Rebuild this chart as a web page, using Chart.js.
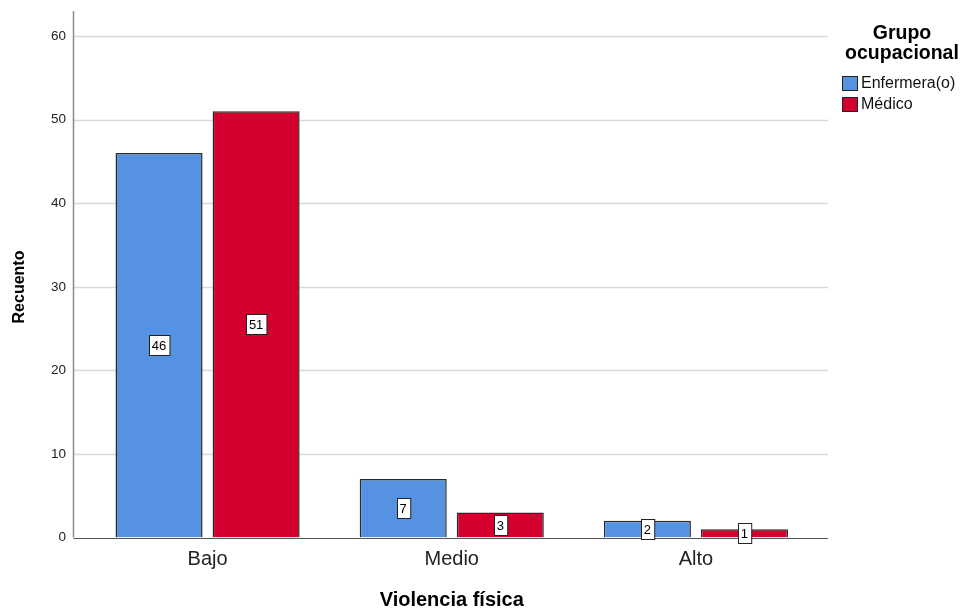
<!DOCTYPE html>
<html>
<head>
<meta charset="utf-8">
<title>Violencia física</title>
<script src="https://cdn.jsdelivr.net/npm/chart.js@4.4.1/dist/chart.umd.min.js"></script>
<style>
  html, body { margin: 0; padding: 0; background: #fff; }
  #wrap { width: 971px; height: 616px; position: relative; }
</style>
</head>
<body>
<div id="wrap"><canvas id="barChart"></canvas></div>
<script>
const categories = ["Bajo", "Medio", "Alto"];
const groupNames = ["Enfermera(o)", "Médico"];
const nurseCounts = [46, 7, 2];
const doctorCounts = [51, 3, 1];
const yTicks = [0, 10, 20, 30, 40, 50, 60];

const FONT = "Arial, 'Liberation Sans', sans-serif";
const BLUE = "#5592e2";
const RED = "#d3002f";

// grid lines and axis lines run a bit wider than the category band
const AXIS_LEFT = 73.5;
const AXIS_RIGHT = 828;

const chartCanvas = document.getElementById("barChart");

const framePlugin = {
  id: "frame",
  beforeDatasetsDraw(chart) {
    const ctx = chart.ctx;
    const y = chart.scales.y;
    const area = chart.chartArea;
    ctx.save();
    ctx.strokeStyle = "#d9d9d9";
    ctx.lineWidth = 1.5;
    yTicks.forEach((v) => {
      if (v === 0) return;
      const py = Math.round(y.getPixelForValue(v)) + 0.5;
      ctx.beginPath();
      ctx.moveTo(AXIS_LEFT, py);
      ctx.lineTo(AXIS_RIGHT, py);
      ctx.stroke();
    });
    // y axis line
    ctx.strokeStyle = "#8a8a8a";
    ctx.lineWidth = 1.5;
    ctx.beginPath();
    ctx.moveTo(AXIS_LEFT, area.top);
    ctx.lineTo(AXIS_LEFT, y.getPixelForValue(0));
    ctx.stroke();
    ctx.restore();
  },
  afterDatasetsDraw(chart) {
    const ctx = chart.ctx;
    const y = chart.scales.y;
    const base = Math.round(y.getPixelForValue(0)) + 0.5;
    ctx.save();
    // x axis line
    ctx.strokeStyle = "#555";
    ctx.lineWidth = 1;
    ctx.beginPath();
    ctx.moveTo(AXIS_LEFT, base);
    ctx.lineTo(AXIS_RIGHT, base);
    ctx.stroke();

    // value boxes in the middle of each bar
    ctx.font = "13px " + FONT;
    ctx.textAlign = "center";
    ctx.textBaseline = "middle";
    chart.data.datasets.forEach((ds, i) => {
      const meta = chart.getDatasetMeta(i);
      meta.data.forEach((bar, j) => {
        const value = ds.data[j];
        const label = String(value);
        const cy = y.getPixelForValue(value / 2);
        const w = ctx.measureText(label).width + 6;
        const h = 20;
        const bx = Math.round(bar.x - w / 2) + 0.5;
        const by = Math.round(cy - h / 2) + 0.5;
        ctx.fillStyle = "#fff";
        ctx.fillRect(bx, by, w, h);
        ctx.strokeStyle = "#222";
        ctx.lineWidth = 1;
        ctx.strokeRect(bx, by, w, h);
        ctx.fillStyle = "#000";
        ctx.fillText(label, bar.x, cy + 1);
      });
    });
    ctx.restore();
  },
  afterDraw(chart) {
    const ctx = chart.ctx;
    ctx.save();
    // y axis title
    ctx.fillStyle = "#000";
    ctx.font = "bold 16px " + FONT;
    ctx.textAlign = "center";
    ctx.textBaseline = "middle";
    ctx.translate(20, 287);
    ctx.rotate(-Math.PI / 2);
    ctx.fillText("Recuento", 0, 0);
    ctx.restore();

    // legend on the right
    ctx.save();
    ctx.fillStyle = "#000";
    ctx.font = "bold 19.5px " + FONT;
    ctx.textAlign = "center";
    ctx.textBaseline = "middle";
    ctx.fillText("Grupo", 902, 34);
    ctx.fillText("ocupacional", 902, 54);

    const colors = [BLUE, RED];
    ctx.font = "16px " + FONT;
    ctx.textAlign = "left";
    groupNames.forEach((name, i) => {
      const top = 76 + i * 21;
      ctx.fillStyle = colors[i];
      ctx.fillRect(842.5, top + 0.5, 15, 14);
      ctx.strokeStyle = "#222";
      ctx.lineWidth = 1;
      ctx.strokeRect(842.5, top + 0.5, 15, 14);
      ctx.fillStyle = "#111";
      ctx.fillText(name, 861, top + 8);
    });
    ctx.restore();
  },
};

new Chart(chartCanvas, {
  type: "bar",
  data: {
    labels: categories,
    datasets: [
      {
        label: groupNames[0],
        data: nurseCounts,
        backgroundColor: BLUE,
        borderColor: "#2a2a2a",
        borderWidth: 1.5,
        borderSkipped: "bottom",
      },
      {
        label: groupNames[1],
        data: doctorCounts,
        backgroundColor: RED,
        borderColor: "#2a2a2a",
        borderWidth: 1.5,
        borderSkipped: "bottom",
      },
    ],
  },
  options: {
    responsive: true,
    maintainAspectRatio: false,
    animation: false,
    events: [],
    categoryPercentage: 0.795,
    barPercentage: 0.897,
    layout: {
      padding: { top: 11, right: 153, left: 0, bottom: 0 },
    },
    plugins: {
      legend: { display: false },
      tooltip: { enabled: false },
    },
    scales: {
      x: {
        grid: { display: false, drawTicks: false },
        border: { display: false },
        ticks: {
          color: "#222",
          padding: 10,
          font: { family: FONT, size: 20 },
        },
        title: {
          display: true,
          text: "Violencia física",
          color: "#000",
          padding: { top: 0, bottom: 4 },
          font: { family: FONT, size: 20, weight: "bold" },
        },
        afterFit(scale) {
          scale.height = 78.5;
          scale.paddingLeft = 0;
          scale.paddingRight = 0;
        },
      },
      y: {
        min: 0,
        max: 63,
        grid: { display: false, drawTicks: false },
        border: { display: false },
        ticks: {
          stepSize: 10,
          includeBounds: false,
          color: "#222",
          padding: 19.5,
          font: { family: FONT, size: 13.5 },
        },
        afterFit(scale) {
          scale.width = 85.5;
          scale.paddingTop = 0;
          scale.paddingBottom = 0;
        },
      },
    },
  },
  plugins: [framePlugin],
});
</script>
</body>
</html>
